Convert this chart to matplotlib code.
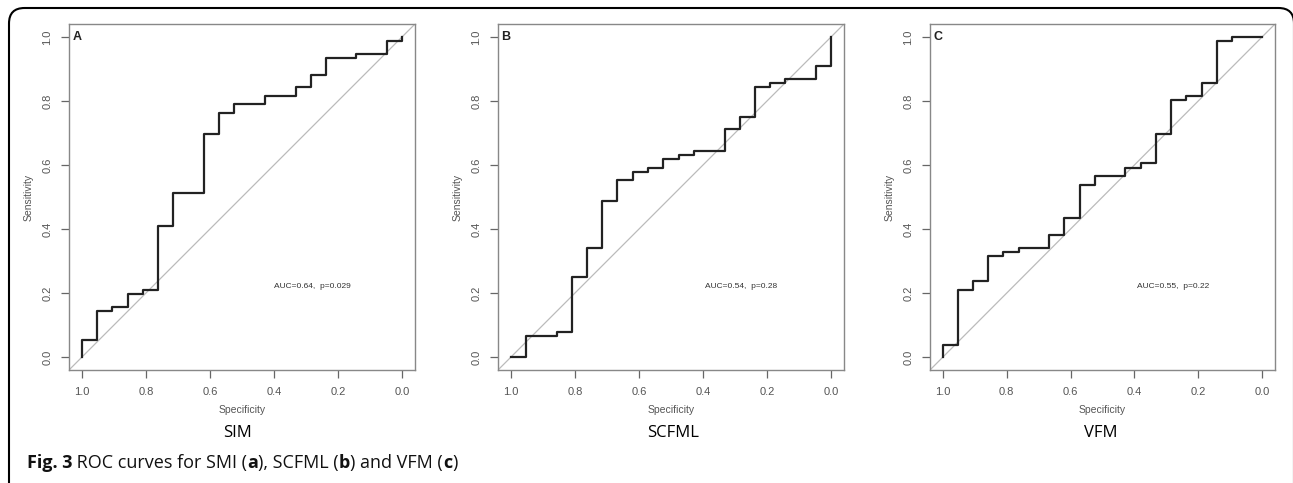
import numpy as np
from matplotlib import pyplot as plt
from matplotlib.patches import FancyBboxPatch

# ROC step curves (specificity, sensitivity)
spec_a = [1.0, 1.0, 0.952, 0.952, 0.905, 0.905, 0.857, 0.857, 0.810, 0.810, 0.762, 0.762,
          0.714, 0.714, 0.619, 0.619, 0.571, 0.571, 0.524, 0.524, 0.429, 0.429, 0.333, 0.333,
          0.286, 0.286, 0.238, 0.238, 0.143, 0.143, 0.048, 0.048, 0.0, 0.0]
sens_a = [0.0, 0.053, 0.053, 0.145, 0.145, 0.158, 0.158, 0.197, 0.197, 0.211, 0.211, 0.408,
          0.408, 0.513, 0.513, 0.697, 0.697, 0.763, 0.763, 0.789, 0.789, 0.816, 0.816, 0.842,
          0.842, 0.882, 0.882, 0.934, 0.934, 0.947, 0.947, 0.987, 0.987, 1.0]

spec_b = [1.0, 0.952, 0.952, 0.857, 0.857, 0.810, 0.810, 0.762, 0.762, 0.714, 0.714, 0.667,
          0.667, 0.619, 0.619, 0.571, 0.571, 0.524, 0.524, 0.476, 0.476, 0.429, 0.429, 0.333,
          0.333, 0.286, 0.286, 0.238, 0.238, 0.190, 0.190, 0.143, 0.143, 0.048, 0.048, 0.0, 0.0]
sens_b = [0.0, 0.0, 0.066, 0.066, 0.079, 0.079, 0.250, 0.250, 0.342, 0.342, 0.487, 0.487,
          0.553, 0.553, 0.579, 0.579, 0.592, 0.592, 0.618, 0.618, 0.632, 0.632, 0.645, 0.645,
          0.711, 0.711, 0.750, 0.750, 0.842, 0.842, 0.855, 0.855, 0.868, 0.868, 0.908, 0.908, 1.0]

spec_c = [1.0, 1.0, 0.952, 0.952, 0.905, 0.905, 0.857, 0.857, 0.810, 0.810, 0.762, 0.762,
          0.667, 0.667, 0.619, 0.619, 0.571, 0.571, 0.524, 0.524, 0.429, 0.429, 0.381, 0.381,
          0.333, 0.333, 0.286, 0.286, 0.238, 0.238, 0.190, 0.190, 0.143, 0.143, 0.095, 0.095, 0.0]
sens_c = [0.0, 0.039, 0.039, 0.211, 0.211, 0.237, 0.237, 0.316, 0.316, 0.329, 0.329, 0.342,
          0.342, 0.382, 0.382, 0.434, 0.434, 0.539, 0.539, 0.566, 0.566, 0.592, 0.592, 0.605,
          0.605, 0.697, 0.697, 0.803, 0.803, 0.816, 0.816, 0.855, 0.855, 0.987, 0.987, 1.0, 1.0]

curves = [(spec_a, sens_a), (spec_b, sens_b), (spec_c, sens_c)]
letters = ["A", "B", "C"]
auc_texts = ["AUC=0.64,  p=0.029", "AUC=0.54,  p=0.28", "AUC=0.55,  p=0.22"]
names = ["SIM", "SCFML", "VFM"]
ticks = [0.0, 0.2, 0.4, 0.6, 0.8, 1.0]

W, H = 1293, 483
fig = plt.figure(figsize=(W / 100, H / 100), dpi=100)

# rounded frame around the figure (right side sits on the image edge, bottom below it)
frame = FancyBboxPatch((9 / W, -20 / H), (1294 - 9) / W, (H - 8 + 20) / H,
                       boxstyle="round,pad=0,rounding_size=0.012",
                       transform=fig.transFigure, fill=False, ec="black", lw=1.5,
                       mutation_aspect=W / H)
fig.patches.append(frame)

lefts = [69, 498, 930]
widths = [346, 346, 345]
top, bottom = 24, 370
name_x = [237, 673, 1101]
gray = "#555555"

for i in range(3):
    ax = fig.add_axes([lefts[i] / W, 1 - bottom / H, widths[i] / W, (bottom - top) / H])
    ax.plot([1.04, -0.04], [-0.04, 1.04], color="#bbbbbb", lw=0.9)
    ax.plot(curves[i][0], curves[i][1], color="#222222", lw=1.6)
    ax.set_xlim(1.04, -0.04)
    ax.set_ylim(-0.04, 1.04)
    ax.set_xticks(ticks)
    ax.set_yticks(ticks)
    ax.set_xticklabels([f"{t:.1f}" for t in ticks])
    ax.set_yticklabels([f"{t:.1f}" for t in ticks], rotation=90, va="center")
    ax.tick_params(direction="out", length=6, width=0.9, color="#666666",
                   labelsize=8, labelcolor=gray, pad=6)
    for s in ax.spines.values():
        s.set_color("#888888")
        s.set_linewidth(1.0)
    ax.set_xlabel("Specificity", fontsize=7.5, color=gray, family="Liberation Sans", labelpad=6)
    ax.set_ylabel("Sensitivity", fontsize=7.5, color=gray, family="Liberation Sans", labelpad=6)
    for lab in ax.get_xticklabels() + ax.get_yticklabels():
        lab.set_family("Liberation Sans")
    ax.text(1.03, 1.0, letters[i], fontsize=9, fontweight="bold", color="#222222",
            family="Liberation Sans", va="center", ha="left")
    ax.text(0.28, 0.22, auc_texts[i], fontsize=6, color="#333333",
            family="Liberation Sans", ha="center", va="center")
    fig.text(name_x[i] / W, 1 - 433 / H, names[i], fontsize=12, family="Open Sans",
             ha="center", va="center")

# caption with bold pieces
pieces = [("Fig. 3", "bold"), (" ROC curves for SMI (", "normal"), ("a", "bold"),
          ("), SCFML (", "normal"), ("b", "bold"), (") and VFM (", "normal"),
          ("c", "bold"), (")", "normal")]
fig.canvas.draw()
r = fig.canvas.get_renderer()
x = 27
for txt, wt in pieces:
    t = fig.text(x / W, 1 - 463 / H, txt, fontsize=13, fontweight=wt, family="Open Sans",
                 ha="left", va="center", color="#111111")
    x += t.get_window_extent(renderer=r).width

fig.savefig("out.png", dpi=100)
